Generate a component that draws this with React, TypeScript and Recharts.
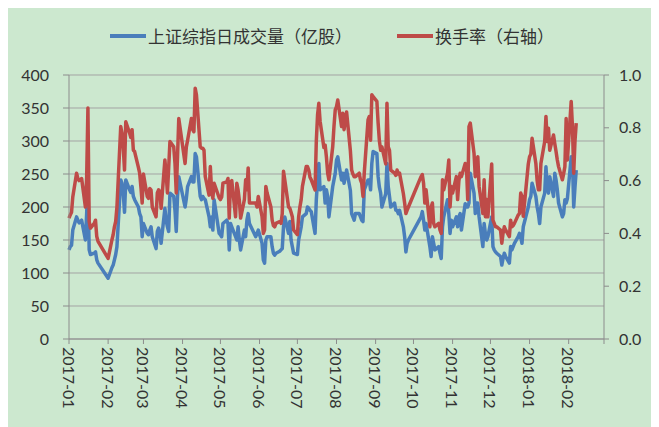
import React from 'react';
import { ComposedChart, Line, XAxis, YAxis, CartesianGrid } from 'recharts';

// trading days per month (SSE calendar)
const tradeDays: [string, number[]][] = [
  ['2017-01', [3, 4, 5, 6, 9, 10, 11, 12, 13, 16, 17, 18, 19, 20, 23, 24, 25, 26]],
  ['2017-02', [3, 6, 7, 8, 9, 10, 13, 14, 15, 16, 17, 20, 21, 22, 23, 24, 27, 28]],
  ['2017-03', [1, 2, 3, 6, 7, 8, 9, 10, 13, 14, 15, 16, 17, 20, 21, 22, 23, 24, 27, 28, 29, 30, 31]],
  ['2017-04', [5, 6, 7, 10, 11, 12, 13, 14, 17, 18, 19, 20, 21, 24, 25, 26, 27, 28]],
  ['2017-05', [2, 3, 4, 5, 8, 9, 10, 11, 12, 15, 16, 17, 18, 19, 22, 23, 24, 25, 26, 31]],
  ['2017-06', [1, 2, 5, 6, 7, 8, 9, 12, 13, 14, 15, 16, 19, 20, 21, 22, 23, 26, 27, 28, 29, 30]],
  ['2017-07', [3, 4, 5, 6, 7, 10, 11, 12, 13, 14, 17, 18, 19, 20, 21, 24, 25, 26, 27, 28, 31]],
  ['2017-08', [1, 2, 3, 4, 7, 8, 9, 10, 11, 14, 15, 16, 17, 18, 21, 22, 23, 24, 25, 28, 29, 30, 31]],
  ['2017-09', [1, 4, 5, 6, 7, 8, 11, 12, 13, 14, 15, 18, 19, 20, 21, 22, 25, 26, 27, 28, 29]],
  ['2017-10', [9, 10, 11, 12, 13, 16, 17, 18, 19, 20, 23, 24, 25, 26, 27, 30, 31]],
  ['2017-11', [1, 2, 3, 6, 7, 8, 9, 10, 13, 14, 15, 16, 17, 20, 21, 22, 23, 24, 27, 28, 29, 30]],
  ['2017-12', [1, 4, 5, 6, 7, 8, 11, 12, 13, 14, 15, 18, 19, 20, 21, 22, 25, 26, 27, 28, 29]],
  ['2018-01', [2, 3, 4, 5, 8, 9, 10, 11, 12, 15, 16, 17, 18, 19, 22, 23, 24, 25, 26, 29, 30, 31]],
  ['2018-02', [1, 2, 5, 6, 7, 8, 9]],
];

// 上证综指日成交量（亿股）
const volume = [
  135, 140, 142, 165, 185, 180, 176, 178, 180, 150, 190, 240, 135, 128, 130, 132, 120, 115,
  92, 108, 112, 120, 128, 140, 241, 236, 221, 192, 241, 226, 222, 231, 216, 211, 200, 190,
  185, 155, 175, 160, 158, 165, 170, 155, 137, 163, 168, 160, 145, 198, 180, 170, 163, 221, 216, 195, 163, 216, 246,
  200, 213, 231, 246, 238, 238, 281, 276, 216, 211, 216, 213, 211, 185, 170, 185, 165, 211,
  160, 158, 155, 175, 180, 175, 135, 175, 170, 155, 150, 170, 150, 135, 165, 155, 180, 190, 175, 155,
  160, 165, 145, 120, 115, 150, 155, 155, 140, 130, 127, 130, 133, 135, 137, 170, 185, 160, 178, 150, 140, 130,
  128, 150, 160, 170, 185, 190, 200, 198, 195, 193, 160, 211, 240, 266, 226, 231, 206, 226, 216, 185, 231,
  241, 251, 271, 276, 241, 251, 236, 246, 256, 225, 190, 185, 180, 190, 190, 185, 180, 178, 226, 241, 241, 226, 266,
  284, 281, 246, 230, 221, 200, 220, 266, 231, 216, 200, 206, 195, 195, 190, 195, 170, 155, 132, 145, 150,
  185, 193, 180, 165, 175, 140, 125, 155, 145, 135, 140, 130, 122, 170, 185, 211, 190,
  160, 180, 170, 185, 170, 185, 190, 165, 205, 200, 200, 206, 251, 221, 190, 206, 206, 185, 140, 175, 160, 150,
  155, 185, 140, 135, 132, 130, 125, 112, 122, 130, 125, 115, 140, 135, 140, 145, 155, 160, 155, 145, 170,
  200, 211, 216, 236, 216, 200, 190, 175, 200, 221, 261, 231, 221, 246, 216, 251, 241, 226, 206, 185, 190, 211,
  206, 213, 276, 271, 200, 230, 256,
];

// 换手率（右轴）
const turnover = [
  0.458, 0.47, 0.48, 0.538, 0.628, 0.608, 0.6, 0.603, 0.608, 0.5, 0.613, 0.875, 0.445, 0.42, 0.438, 0.45, 0.388, 0.37,
  0.305, 0.375, 0.395, 0.425, 0.445, 0.5, 0.805, 0.78, 0.725, 0.64, 0.823, 0.78, 0.763, 0.793, 0.715, 0.71, 0.65, 0.628,
  0.575, 0.515, 0.625, 0.54, 0.533, 0.57, 0.565, 0.5, 0.463, 0.553, 0.565, 0.558, 0.495, 0.678, 0.625, 0.553, 0.648, 0.748, 0.728, 0.665, 0.553, 0.69, 0.835,
  0.665, 0.728, 0.753, 0.835, 0.793, 0.785, 0.95, 0.925, 0.728, 0.723, 0.723, 0.715, 0.615, 0.545, 0.653, 0.565, 0.533, 0.59,
  0.535, 0.528, 0.538, 0.59, 0.595, 0.608, 0.458, 0.595, 0.6, 0.463, 0.59, 0.565, 0.525, 0.458, 0.528, 0.603, 0.565, 0.648, 0.515, 0.515,
  0.5, 0.54, 0.463, 0.4, 0.413, 0.578, 0.553, 0.5, 0.45, 0.43, 0.425, 0.438, 0.445, 0.438, 0.475, 0.635, 0.603, 0.5, 0.495, 0.48, 0.463, 0.413,
  0.395, 0.463, 0.5, 0.528, 0.578, 0.653, 0.653, 0.64, 0.613, 0.603, 0.565, 0.75, 0.85, 0.893, 0.825, 0.725, 0.735, 0.69, 0.628, 0.603, 0.728,
  0.805, 0.868, 0.88, 0.905, 0.805, 0.855, 0.793, 0.83, 0.86, 0.713, 0.64, 0.625, 0.615, 0.615, 0.628, 0.603, 0.59, 0.54, 0.628, 0.83, 0.843, 0.753, 0.925,
  0.918, 0.9, 0.818, 0.75, 0.715, 0.728, 0.663, 0.893, 0.728, 0.715, 0.64, 0.628, 0.62, 0.64, 0.625, 0.628, 0.55, 0.515, 0.475, 0.488, 0.5,
  0.615, 0.623, 0.59, 0.515, 0.565, 0.425, 0.5, 0.515, 0.438, 0.425, 0.438, 0.413, 0.4, 0.603, 0.565, 0.628, 0.678,
  0.5, 0.578, 0.553, 0.615, 0.528, 0.6, 0.628, 0.615, 0.665, 0.653, 0.528, 0.805, 0.818, 0.703, 0.615, 0.678, 0.69, 0.578, 0.475, 0.603, 0.463, 0.528,
  0.463, 0.663, 0.45, 0.438, 0.425, 0.425, 0.413, 0.363, 0.4, 0.425, 0.413, 0.388, 0.45, 0.425, 0.43, 0.438, 0.47, 0.475, 0.553, 0.54, 0.465,
  0.663, 0.69, 0.7, 0.76, 0.665, 0.6, 0.565, 0.565, 0.665, 0.748, 0.843, 0.748, 0.798, 0.715, 0.773, 0.74, 0.71, 0.678, 0.653, 0.603, 0.625, 0.653,
  0.835, 0.678, 0.9, 0.805, 0.628, 0.75, 0.818,
];

const monthLabels = [
  '2017-01', '2017-02', '2017-03', '2017-04', '2017-05', '2017-06', '2017-07',
  '2017-08', '2017-09', '2017-10', '2017-11', '2017-12', '2018-01', '2018-02',
];
const leftTicks = [0, 50, 100, 150, 200, 250, 300, 350, 400];
const rightTicks = [0, 0.2, 0.4, 0.6, 0.8, 1.0];

const BLUE = '#4a7ebb';
const RED = '#be4b48';
const AXIS = '#8c8c8c';
const TXT = '#333333';
const NUM_FONT = 'Lato, "Open Sans", sans-serif';
const CJK_FONT = '"Noto Sans CJK SC", "Noto Sans", sans-serif';

const toTime = (s: string) => Date.UTC(+s.slice(0, 4), +s.slice(5, 7) - 1, +s.slice(8, 10));

// axis starts on the first trading day, ticks every month on the same day
const tickTimes = [...monthLabels, '2018-03'].map((m) => toTime(m + '-03'));

const data = tradeDays
  .flatMap(([m, days]) => days.map((d) => `${m}-${String(d).padStart(2, '0')}`))
  .map((d, i) => ({ t: toTime(d), volume: volume[i], turnover: turnover[i] }));

const DateTick = (props: any) => {
  const { x, y, payload } = props;
  const idx = tickTimes.indexOf(payload.value);
  const label = monthLabels[idx] || '';
  return (
    <text
      x={x}
      y={y}
      transform={`rotate(90, ${x}, ${y})`}
      textAnchor="start"
      dominantBaseline="central"
      fontSize={16}
      fontFamily={NUM_FONT}
      fill={TXT}
    >
      {label}
    </text>
  );
};

const LegendItem = ({ left, color, text }: { left: number; color: string; text: string }) => (
  <div style={{ position: 'absolute', left, top: 17, height: 22, display: 'flex', alignItems: 'center' }}>
    <div style={{ width: 36, height: 4, background: color, marginRight: 2 }} />
    <span style={{ fontFamily: CJK_FONT, fontSize: 17, color: TXT, whiteSpace: 'nowrap', lineHeight: '22px' }}>{text}</span>
  </div>
);

export default function App() {
  return (
    <div style={{ position: 'relative', width: 651, height: 419, background: '#cce8cf' }}>
      <LegendItem left={102} color={BLUE} text="上证综指日成交量（亿股）" />
      <LegendItem left={389} color={RED} text="换手率（右轴）" />
      <ComposedChart width={651} height={419} data={data} margin={{ top: 67, right: 0, bottom: 0, left: 0 }}>
        <CartesianGrid yAxisId="left" vertical={false} stroke="#a3a3a3" strokeWidth={1} />
        <XAxis
          dataKey="t"
          type="number"
          domain={[tickTimes[0], tickTimes[tickTimes.length - 1]]}
          ticks={tickTimes}
          interval={0}
          height={88}
          tick={(p: any) => <DateTick {...p} />}
          tickSize={5}
          tickMargin={3}
          axisLine={{ stroke: AXIS }}
          tickLine={{ stroke: AXIS }}
        />
        <YAxis
          yAxisId="left"
          domain={[0, 400]}
          ticks={leftTicks}
          interval={0}
          width={61}
          tickSize={6}
          tickMargin={14}
          axisLine={{ stroke: AXIS }}
          tickLine={{ stroke: AXIS }}
          tick={{ fontSize: 16, fontFamily: NUM_FONT, fill: TXT }}
        />
        <YAxis
          yAxisId="right"
          orientation="right"
          domain={[0, 1]}
          ticks={rightTicks}
          interval={0}
          width={55}
          tickSize={5}
          tickMargin={10}
          tickFormatter={(v: number) => v.toFixed(1)}
          axisLine={{ stroke: AXIS }}
          tickLine={{ stroke: AXIS }}
          tick={{ fontSize: 16, fontFamily: NUM_FONT, fill: TXT }}
        />
        <Line
          yAxisId="left"
          type="linear"
          dataKey="volume"
          stroke={BLUE}
          strokeWidth={3.5}
          strokeLinejoin="round"
          dot={false}
          isAnimationActive={false}
        />
        <Line
          yAxisId="right"
          type="linear"
          dataKey="turnover"
          stroke={RED}
          strokeWidth={3.5}
          strokeLinejoin="round"
          dot={false}
          isAnimationActive={false}
        />
      </ComposedChart>
    </div>
  );
}
